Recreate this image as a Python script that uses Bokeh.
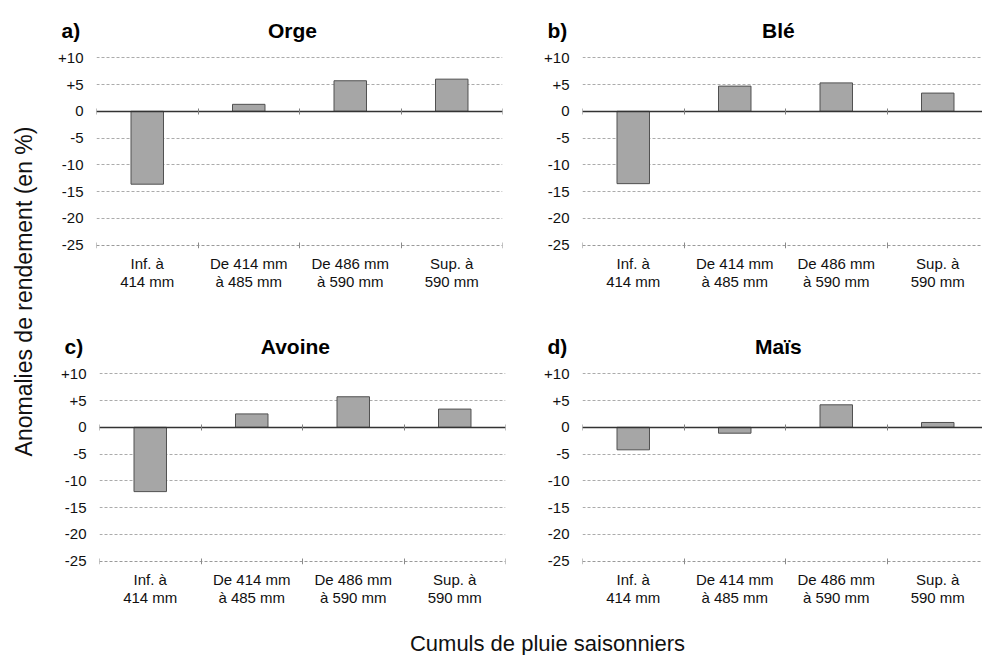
import math
from bokeh.plotting import figure
from bokeh.models import Range1d, LinearAxis, FixedTicker, Label
from bokeh.layouts import row, column
from bokeh.embed import file_html
from bokeh.resources import INLINE

# ---------------- data ----------------
categories = ["Inf. à\n414 mm", "De 414 mm\nà 485 mm", "De 486 mm\nà 590 mm", "Sup. à\n590 mm"]
orge = [-13.6, 1.3, 5.7, 6.0]
ble = [-13.5, 4.7, 5.3, 3.4]
avoine = [-12.0, 2.5, 5.7, 3.4]
mais = [-4.2, -1.1, 4.2, 0.9]
panel_letters = ["a)", "b)", "c)", "d)"]
panel_titles = ["Orge", "Blé", "Avoine", "Maïs"]
y_ticks = [-25, -20, -15, -10, -5, 0, 5, 10]
y_tick_labels = ["-25", "-20", "-15", "-10", "-5", "0", "+5", "+10"]
y_axis_title = "Anomalies de rendement (en %)"
x_axis_title = "Cumuls de pluie saisonniers"

FONT = "Liberation Sans"
PX_PER_CAT = 101.5
Y_MIN, Y_MAX = -25.6, 10.6
TITLE_X = 1.93   # title centre, in category units

n = len(categories)
centers = [i + 0.5 for i in range(n)]
bounds = [float(i) for i in range(n + 1)]


def panel(values, width, height, bl, br, bt, bb):
    frame_w = width - bl - br
    x_end = min(n, frame_w / PX_PER_CAT)
    p = figure(width=width, height=height, x_range=Range1d(0, x_end),
               y_range=Range1d(Y_MIN, Y_MAX), output_backend="svg",
               toolbar_location=None, x_axis_type=None,
               min_border_left=bl, min_border_right=br,
               min_border_top=bt, min_border_bottom=bb)
    p.outline_line_color = None
    p.background_fill_color = "white"

    # y axis
    p.yaxis.ticker = FixedTicker(ticks=y_ticks)
    p.yaxis.major_label_overrides = {t: l for t, l in zip(y_ticks, y_tick_labels)}
    p.yaxis.axis_line_color = None
    p.yaxis.major_tick_line_color = None
    p.yaxis.minor_tick_line_color = None
    p.yaxis.major_label_standoff = 7
    p.yaxis.major_label_text_font = FONT
    p.yaxis.major_label_text_font_size = "15px"
    p.yaxis.major_label_text_color = "#111111"

    p.ygrid.ticker = FixedTicker(ticks=[t for t in y_ticks if t != y_ticks[0]])
    p.ygrid.grid_line_color = "#ababab"
    p.ygrid.grid_line_dash = "3 2"
    p.ygrid.grid_line_width = 1

    # bars
    p.vbar(x=centers, top=values, bottom=0, width=0.32,
           fill_color="#a6a6a6", line_color="#505050", line_width=1)

    # category labels axis at frame bottom
    xa = LinearAxis(ticker=FixedTicker(ticks=centers))
    xa.major_label_overrides = {c: lab for c, lab in zip(centers, categories)}
    xa.axis_line_color = None
    xa.major_tick_line_color = None
    xa.major_tick_in = 0
    xa.major_tick_out = 0
    xa.minor_tick_line_color = None
    xa.major_label_standoff = 6
    xa.major_label_text_font = FONT
    xa.major_label_text_font_size = "15px"
    xa.major_label_text_color = "#111111"
    xa.major_label_text_line_height = 1.1
    p.add_layout(xa, "below")

    # bottom line (-25), dashed with boundary ticks
    ba = LinearAxis(fixed_location=y_ticks[0], ticker=FixedTicker(ticks=bounds))
    ba.axis_line_color = "#9a9a9a"
    ba.axis_line_dash = "3 2"
    ba.axis_line_width = 1
    ba.major_tick_line_color = "#8a8a8a"
    ba.major_tick_in = 3
    ba.major_tick_out = 3
    ba.minor_tick_line_color = None
    ba.major_label_text_font_size = "0px"
    ba.major_label_text_alpha = 0
    p.add_layout(ba, "below")

    # zero line axis
    za = LinearAxis(fixed_location=0, ticker=FixedTicker(ticks=bounds))
    za.axis_line_color = "#333333"
    za.axis_line_width = 1.5
    za.major_tick_line_color = "#808080"
    za.major_tick_in = 3
    za.major_tick_out = 3
    za.minor_tick_line_color = None
    za.major_label_text_font_size = "0px"
    za.major_label_text_alpha = 0
    p.add_layout(za, "below")
    return p


def blank(width, height):
    f = figure(width=width, height=height, x_range=Range1d(0, width), y_range=Range1d(0, height),
               output_backend="svg", toolbar_location=None,
               x_axis_type=None, y_axis_type=None,
               min_border_left=0, min_border_right=0, min_border_top=0, min_border_bottom=0)
    f.outline_line_color = None
    f.xgrid.visible = False
    f.ygrid.visible = False
    return f


YLAB_W = 38
COL1_W, COL2_W = 502, 442
COL1_BL = [58, 61]     # left borders (row 1, row 2)
COL2_BL = 42


def title_strip(height, mid_y, letters, titles, left_border):
    s = blank(COL1_W + COL2_W, height)
    lefts = [left_border, COL1_W + COL2_BL]
    for k in range(2):
        fl = lefts[k]
        s.add_layout(Label(x=fl - 35, y=mid_y, x_units="screen", y_units="screen",
                           text=letters[k], text_font=FONT, text_font_size="21px",
                           text_font_style="bold", text_align="left",
                           text_baseline="middle", text_color="black"))
        s.add_layout(Label(x=fl + TITLE_X * PX_PER_CAT, y=mid_y, x_units="screen",
                           y_units="screen", text=titles[k], text_font=FONT,
                           text_font_size="21px", text_font_style="bold",
                           text_align="center", text_baseline="middle", text_color="black"))
    return s


t1 = title_strip(45, 15, panel_letters[0:2], panel_titles[0:2], COL1_BL[0])
pa = panel(orge, COL1_W, 280, COL1_BL[0], COL1_W - COL1_BL[0] - 406, 9, 77)
pb = panel(ble, COL2_W, 280, COL2_BL, 0, 9, 77)
t2 = title_strip(35, 14, panel_letters[2:4], panel_titles[2:4], COL1_BL[1])
pc = panel(avoine, COL1_W, 250, COL1_BL[1], COL1_W - COL1_BL[1] - 406, 10, 46)
pd = panel(mais, COL2_W, 250, COL2_BL, 0, 10, 46)

ylab = blank(YLAB_W, 655)
ylab.add_layout(Label(x=23, y=655 - 291, x_units="screen", y_units="screen", text=y_axis_title,
                      angle=math.pi / 2, text_font=FONT, text_font_size="23px",
                      text_align="center", text_baseline="middle", text_color="#111111"))

xlab = blank(COL1_W + COL2_W, 45)
xlab.add_layout(Label(x=547 - YLAB_W, y=12, x_units="screen", y_units="screen", text=x_axis_title,
                      text_font=FONT, text_font_size="22px",
                      text_align="center", text_baseline="middle", text_color="#111111"))

layout = row(ylab, column(t1, row(pa, pb), t2, row(pc, pd), xlab))

open("out.html", "w").write(file_html(layout, INLINE))
